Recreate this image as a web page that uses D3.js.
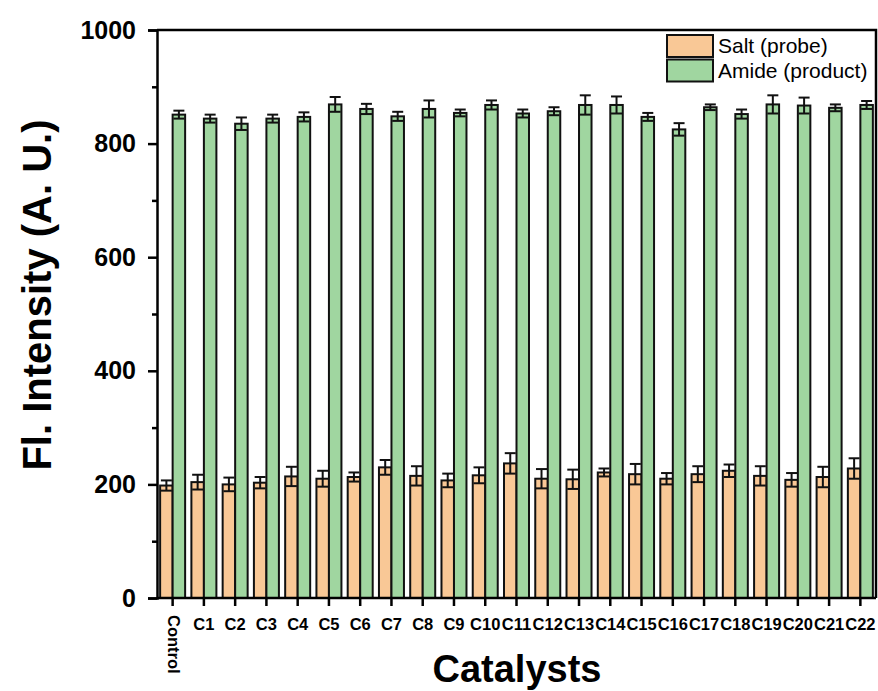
<!DOCTYPE html>
<html>
<head>
<meta charset="utf-8">
<script src="https://cdn.jsdelivr.net/npm/d3@7"></script>
<style>
  html, body { margin: 0; padding: 0; background: #fff; }
  svg { display: block; font-family: "Liberation Sans", Arial, sans-serif; }
</style>
</head>
<body>
<svg id="chart" width="878" height="691"></svg>
<script>
// Fluorescence readout per catalyst: salt (probe) vs amide (product), mean ± error
const categories = ["Control", "C1", "C2", "C3", "C4", "C5", "C6", "C7", "C8", "C9", "C10",
  "C11", "C12", "C13", "C14", "C15", "C16", "C17", "C18", "C19", "C20", "C21", "C22"];
const saltValues = [198, 204, 200, 203, 214, 210, 213, 230, 215, 207, 216,
  237, 210, 209, 221, 218, 210, 218, 224, 215, 208, 213, 228];
const saltErrors = [9, 13, 12, 10, 17, 14, 8, 13, 17, 12, 14,
  18, 17, 17, 7, 18, 10, 14, 11, 17, 12, 18, 18];
const amideValues = [851, 844, 835, 844, 847, 869, 861, 848, 861, 854, 868,
  853, 857, 868, 868, 847, 825, 864, 852, 869, 867, 863, 868];
const amideErrors = [7, 7, 11, 7, 8, 13, 9, 8, 15, 6, 8,
  7, 7, 17, 15, 7, 11, 5, 8, 16, 14, 6, 7];
const seriesNames = ["Salt (probe)", "Amide (product)"];
const seriesColors = ["#F9C896", "#A0D6A0"];
const yMajorTicks = [0, 200, 400, 600, 800, 1000];
const yMinorTicks = [100, 300, 500, 700, 900];

const svg = d3.select("#chart");
const plotLeft = 157, plotRight = 876, plotTop = 30, plotBottom = 598;

const x = d3.scaleBand().domain(categories).range([plotLeft, plotRight]).padding(0);
const y = d3.scaleLinear().domain([0, 1000]).range([plotBottom, plotTop]);
const barW = 12.5;

const series = [
  { values: saltValues, errors: saltErrors, color: seriesColors[0], offset: -barW },
  { values: amideValues, errors: amideErrors, color: seriesColors[1], offset: 0 }
];

// bars
series.forEach(s => {
  const g = svg.append("g");
  g.selectAll("rect").data(categories).join("rect")
    .attr("x", (c) => x(c) + x.bandwidth() / 2 + s.offset)
    .attr("y", (c, i) => y(s.values[i]))
    .attr("width", barW)
    .attr("height", (c, i) => y(0) - y(s.values[i]))
    .attr("fill", s.color)
    .attr("stroke", "#111")
    .attr("stroke-width", 2);
});

// error bars with caps at both ends
series.forEach(s => {
  const g = svg.append("g").attr("stroke", "#111").attr("stroke-width", 2).attr("fill", "none");
  categories.forEach((c, i) => {
    const cx = x(c) + x.bandwidth() / 2 + s.offset + barW / 2;
    const hi = y(s.values[i] + s.errors[i]);
    const lo = y(s.values[i] - s.errors[i]);
    g.append("line").attr("x1", cx).attr("x2", cx).attr("y1", hi).attr("y2", lo);
    g.append("line").attr("x1", cx - 5.5).attr("x2", cx + 5.5).attr("y1", hi).attr("y2", hi);
    g.append("line").attr("x1", cx - 5.5).attr("x2", cx + 5.5).attr("y1", lo).attr("y2", lo);
  });
});

// frame: top and right edges
svg.append("path")
  .attr("d", `M${plotLeft},${plotTop}H${plotRight}V${plotBottom}`)
  .attr("fill", "none").attr("stroke", "#000").attr("stroke-width", 2.5);

// y axis
const yAxis = svg.append("g").attr("transform", `translate(${plotLeft},0)`)
  .call(d3.axisLeft(y).tickValues(yMajorTicks).tickSize(9).tickPadding(12).tickFormat(d3.format("d")));
yAxis.select(".domain").attr("stroke-width", 2.5);
yAxis.selectAll(".tick line").attr("stroke-width", 2.5);
yAxis.selectAll(".tick text")
  .attr("font-size", 25).attr("font-weight", "bold").attr("fill", "#000")
  .attr("font-family", "'Liberation Sans', Arial, sans-serif");
svg.append("g").attr("transform", `translate(${plotLeft},0)`)
  .call(d3.axisLeft(y).tickValues(yMinorTicks).tickSize(5).tickFormat(""))
  .call(g => g.select(".domain").remove())
  .selectAll(".tick line").attr("stroke-width", 2.5);

// x axis
const xAxis = svg.append("g").attr("transform", `translate(0,${plotBottom})`)
  .call(d3.axisBottom(x).tickSize(8).tickPadding(12));
xAxis.select(".domain").attr("stroke-width", 2.5).attr("d", `M${plotLeft},0H${plotRight}`);
xAxis.selectAll(".tick line").attr("stroke-width", 2.5);
xAxis.selectAll(".tick text")
  .attr("font-size", 16.5).attr("font-weight", "bold").attr("fill", "#000")
  .attr("font-family", "'Liberation Sans', Arial, sans-serif");
xAxis.selectAll(".tick").filter(d => d === "Control").select("text")
  .attr("text-anchor", "start")
  .attr("dy", null)
  .attr("y", 0)
  .attr("transform", "translate(-5,17) rotate(90)");

// axis titles
svg.append("text")
  .attr("x", 517).attr("y", 682)
  .attr("text-anchor", "middle")
  .attr("font-size", 38).attr("font-weight", "bold")
  .text("Catalysts");
svg.append("text")
  .attr("transform", "translate(51,295) rotate(-90)")
  .attr("text-anchor", "middle")
  .attr("font-size", 40).attr("font-weight", "bold")
  .text("Fl. Intensity (A. U.)");

// legend
const legend = svg.append("g");
seriesNames.forEach((name, i) => {
  const ly = 35 + i * 24.5;
  legend.append("rect")
    .attr("x", 667).attr("y", ly).attr("width", 46).attr("height", 22)
    .attr("fill", seriesColors[i]).attr("stroke", "#111").attr("stroke-width", 2);
  legend.append("text")
    .attr("x", 718).attr("y", ly + 18)
    .attr("font-size", 21)
    .text(name);
});
</script>
</body>
</html>
